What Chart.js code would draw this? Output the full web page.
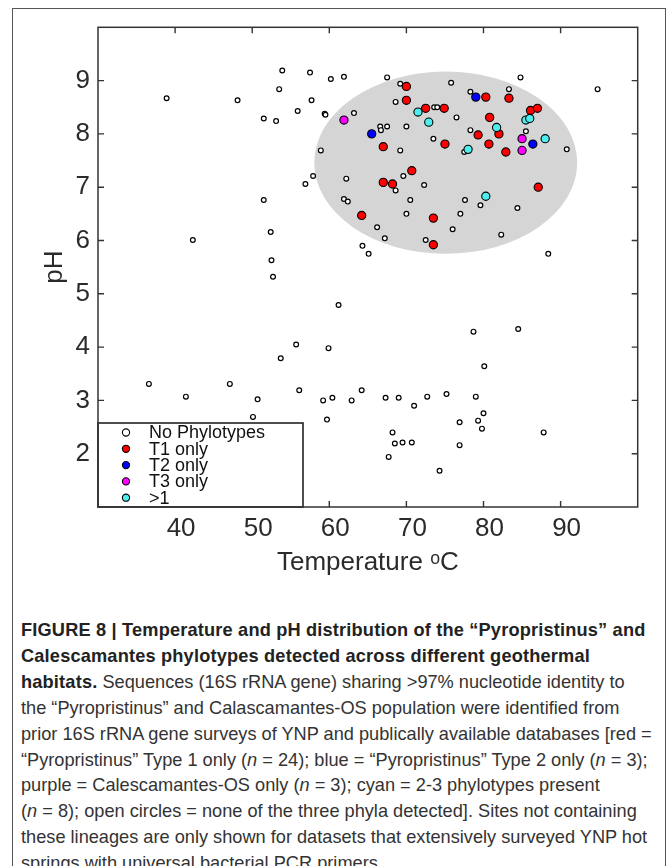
<!DOCTYPE html>
<html>
<head>
<meta charset="utf-8">
<script src="https://cdn.jsdelivr.net/npm/chart.js@4.4.1/dist/chart.umd.min.js"></script>
<style>
  html, body { margin: 0; padding: 0; background: #fff; overflow: hidden; }
  body { width: 668px; height: 866px; position: relative; }
  #frame { position: absolute; left: 12px; top: 8px; width: 652px; height: 900px; border: 1.3px solid #555; }
  #wrap { position: absolute; left: 0; top: 0; width: 668px; height: 600px; }
  #caption { position: absolute; left: 21px; top: 618px; font-family: "Liberation Sans", Arial, sans-serif;
    font-size: 18.2px; color: #333; line-height: 25.9px; white-space: nowrap; }
  #caption b { color: #222; letter-spacing: 0.18px; }
</style>
</head>
<body>
<div id="frame"></div>
<div id="wrap"><canvas id="phchart" width="668" height="600"></canvas></div>
<div id="caption">
  <div><b>FIGURE 8 | Temperature and pH distribution of the “Pyropristinus” and</b></div>
  <div><b>Calescamantes phylotypes detected across different geothermal</b></div>
  <div><b>habitats.</b> Sequences (16S rRNA gene) sharing &gt;97% nucleotide identity to</div>
  <div>the “Pyropristinus” and Calascamantes-OS population were identified from</div>
  <div>prior 16S rRNA gene surveys of YNP and publically available databases [red =</div>
  <div>“Pyropristinus” Type 1 only (<i>n</i> = 24); blue = “Pyropristinus” Type 2 only (<i>n</i> = 3);</div>
  <div>purple = Calescamantes-OS only (<i>n</i> = 3); cyan = 2-3 phylotypes present</div>
  <div>(<i>n</i> = 8); open circles = none of the three phyla detected]. Sites not containing</div>
  <div>these lineages are only shown for datasets that extensively surveyed YNP hot</div>
  <div>springs with universal bacterial PCR primers.</div>
</div>
<script>
// axis ticks
var tempTicks = [40, 50, 60, 70, 80, 90];
var phTicks = [2, 3, 4, 5, 6, 7, 8, 9];

// sites with none of the phylotypes (open circles)
var noneTemp = [53.9, 57.5, 60.2, 61.9, 38.9, 48.1, 53.5, 57.7, 55.9, 59.4, 59.5, 63.2, 51.5, 53.1,
  58.9, 57.9, 56.9, 62.2, 61.9, 62.4, 51.5, 52.4, 42.3, 64.3, 65.1, 52.5, 52.7,
  67.5, 69.2, 75.8, 84.8, 94.8, 78.3, 83.3, 68.6, 73.6, 74.0, 76.5, 66.6, 67.5, 66.7, 70.0,
  78.3, 85.5, 73.5, 69.2, 77.5, 90.8, 69.6, 68.6, 72.3, 70.5, 77.6, 79.6, 84.4, 70.0, 77.0,
  66.2, 76.0, 67.2, 72.5, 82.3, 88.4, 81.8,
  61.2, 55.7, 59.9, 53.7, 36.6, 47.1, 41.4, 50.7, 56.1, 59.2, 60.4, 62.9, 64.2, 50.1, 59.7,
  78.7, 84.5, 80.1, 67.3, 69.0, 71.0, 72.7, 75.2, 79.0, 80.0, 79.3, 79.8, 76.9, 68.2, 68.5,
  69.5, 70.7, 67.7, 76.9, 74.3, 87.8];
var nonePH = [9.19, 9.15, 9.03, 9.07, 8.67, 8.63, 8.84, 8.63, 8.43, 8.38, 8.36, 8.39, 8.29, 8.24,
  7.69, 7.21, 7.06, 7.16, 6.78, 6.73, 6.76, 6.16, 6.01, 5.90, 5.75, 5.63, 5.32,
  9.06, 8.94, 8.96, 9.06, 8.84, 8.79, 8.84, 8.60, 8.50, 8.50, 8.31, 8.14, 8.14, 8.07, 8.14,
  8.07, 8.05, 7.91, 7.69, 7.66, 7.71, 7.21, 6.94, 7.04, 6.76, 6.76, 6.66, 6.61, 6.50, 6.50,
  6.25, 6.21, 6.04, 6.01, 6.11, 5.75, 8.14,
  4.79, 4.05, 3.98, 3.79, 3.31, 3.31, 3.07, 3.02, 3.19, 3.00, 3.05, 3.00, 3.19, 2.69, 2.64,
  4.29, 4.34, 3.64, 3.05, 3.05, 2.90, 3.07, 3.12, 3.07, 2.76, 2.62, 2.47, 2.59, 2.40, 2.19,
  2.21, 2.21, 1.94, 2.16, 1.68, 2.40];

// "Pyropristinus" Type 1 only (red)
var t1Temp = [70.0, 70.0, 72.5, 74.9, 80.3, 83.3, 86.1, 87.0, 80.8, 79.3, 82.0, 80.7, 75.0,
  67.0, 82.9, 70.7, 67.0, 68.2, 87.1, 73.5, 73.5, 64.2];
var t1PH = [8.89, 8.63, 8.48, 8.48, 8.69, 8.67, 8.44, 8.48, 8.31, 7.98, 8.00, 7.81, 7.81,
  7.76, 7.66, 7.31, 7.09, 7.06, 7.00, 6.42, 5.92, 6.47];

// "Pyropristinus" Type 2 only (blue)
var t2Temp = [65.5, 79.0, 86.4];
var t2PH = [8.00, 8.69, 7.81];

// Calescamantes-OS only (magenta)
var t3Temp = [61.9, 85.0, 85.0];
var t3PH = [8.26, 7.91, 7.69];

// more than one phylotype (cyan)
var multiTemp = [71.5, 72.9, 81.7, 85.5, 86.0, 88.0, 78.0, 80.3];
var multiPH = [8.41, 8.22, 8.12, 8.26, 8.29, 7.91, 7.71, 6.83];

// shaded region: centre and half widths in data units
var ellipseCenter = [75.1, 7.46];
var ellipseRadius = [17.05, 1.71];

var groupNames = ['No Phylotypes', 'T1 only', 'T2 only', 'T3 only', '>1'];
var groupColors = ['#ffffff', '#ff0000', '#0000ff', '#ff00ff', '#4feeee'];

function pts(xs, ys) {
  return xs.map(function (x, i) { return { x: x, y: ys[i] }; });
}

var FONT = '"Liberation Sans", Arial, sans-serif';
var INK = '#2b2b2b';

// ellipse behind points, box + inward ticks + legend on top
var framePlugin = {
  id: 'frame',
  beforeDatasetsDraw: function (chart) {
    var ctx = chart.ctx, xs = chart.scales.x, ys = chart.scales.y;
    var cx = xs.getPixelForValue(ellipseCenter[0]);
    var cy = ys.getPixelForValue(ellipseCenter[1]);
    var rx = Math.abs(xs.getPixelForValue(ellipseCenter[0] + ellipseRadius[0]) - cx);
    var ry = Math.abs(ys.getPixelForValue(ellipseCenter[1] + ellipseRadius[1]) - cy);
    ctx.save();
    ctx.fillStyle = '#d5d5d5';
    ctx.beginPath();
    ctx.ellipse(cx, cy, rx, ry, 0, 0, Math.PI * 2);
    ctx.fill();
    ctx.restore();
  },
  afterDatasetsDraw: function (chart) {
    var ctx = chart.ctx, a = chart.chartArea, xs = chart.scales.x, ys = chart.scales.y;
    ctx.save();
    ctx.strokeStyle = '#333';
    ctx.lineWidth = 1.4;
    ctx.beginPath();
    xs.ticks.forEach(function (t) {
      var p = xs.getPixelForValue(t.value);
      ctx.moveTo(p, a.bottom); ctx.lineTo(p, a.bottom - 6);
      ctx.moveTo(p, a.top); ctx.lineTo(p, a.top + 6);
    });
    ys.ticks.forEach(function (t) {
      var p = ys.getPixelForValue(t.value);
      ctx.moveTo(a.left, p); ctx.lineTo(a.left + 6, p);
      ctx.moveTo(a.right, p); ctx.lineTo(a.right - 6, p);
    });
    ctx.stroke();

    // legend box in lower left corner
    var lw = 205, lh = 84;
    ctx.fillStyle = '#fff';
    ctx.fillRect(a.left, a.bottom - lh, lw, lh);
    ctx.lineWidth = 1.6;
    ctx.strokeStyle = '#222';
    ctx.strokeRect(a.left, a.bottom - lh, lw, lh);
    ctx.font = '18px ' + FONT;
    ctx.textBaseline = 'middle';
    groupNames.forEach(function (name, i) {
      var yy = a.bottom - lh + 9.5 + i * 16.3;
      ctx.beginPath();
      ctx.arc(a.left + 28, yy, 3.6, 0, Math.PI * 2);
      ctx.fillStyle = groupColors[i];
      ctx.fill();
      ctx.lineWidth = 1.1;
      ctx.strokeStyle = '#000';
      ctx.stroke();
      ctx.fillStyle = '#111';
      ctx.fillText(name, a.left + 51, yy + 1);
    });

    ctx.lineWidth = 1.5;
    ctx.strokeStyle = '#333';
    ctx.strokeRect(a.left, a.top, a.right - a.left, a.bottom - a.top);
    ctx.restore();
  }
};

function group(i, xs, ys, r, bw, order) {
  return {
    label: groupNames[i],
    data: pts(xs, ys),
    pointRadius: r,
    pointHoverRadius: r,
    pointBorderWidth: bw,
    backgroundColor: groupColors[i],
    borderColor: '#000',
    order: order
  };
}

new Chart(document.getElementById('phchart'), {
  type: 'scatter',
  data: {
    datasets: [
      group(0, noneTemp, nonePH, 2.4, 1.2, 5),
      group(1, t1Temp, t1PH, 4.1, 1.1, 1),
      group(2, t2Temp, t2PH, 4.1, 1.1, 1),
      group(3, t3Temp, t3PH, 4.1, 1.1, 1),
      group(4, multiTemp, multiPH, 4.1, 1.1, 0)
    ]
  },
  options: {
    responsive: false,
    animation: false,
    devicePixelRatio: 1,
    layout: { padding: { top: 27.3, right: 30.3, bottom: 0, left: 0 } },
    plugins: {
      legend: { display: false },
      tooltip: { enabled: false }
    },
    scales: {
      x: {
        type: 'linear',
        min: 30,
        max: 100,
        afterBuildTicks: function (s) { s.ticks = tempTicks.map(function (v) { return { value: v }; }); },
        afterFit: function (s) { s.height = 93; },
        grid: { display: false, drawTicks: false },
        border: { display: false },
        ticks: { padding: 6, labelOffset: 6, color: INK, font: { family: FONT, size: 26 } },
        title: {
          display: true,
          text: 'Temperature ᵒC',
          color: INK,
          font: { family: FONT, size: 26 },
          padding: { top: 0, bottom: 22 }
        }
      },
      y: {
        type: 'linear',
        min: 1,
        max: 10,
        afterBuildTicks: function (s) { s.ticks = phTicks.map(function (v) { return { value: v }; }); },
        afterFit: function (s) { s.width = 98; },
        grid: { display: false, drawTicks: false },
        border: { display: false },
        ticks: { padding: 8, color: INK, font: { family: FONT, size: 26 } },
        title: {
          display: true,
          text: 'pH',
          color: INK,
          font: { family: FONT, size: 26 },
          padding: { top: 39, bottom: 0 }
        }
      }
    }
  },
  plugins: [framePlugin]
});
</script>
</body>
</html>
